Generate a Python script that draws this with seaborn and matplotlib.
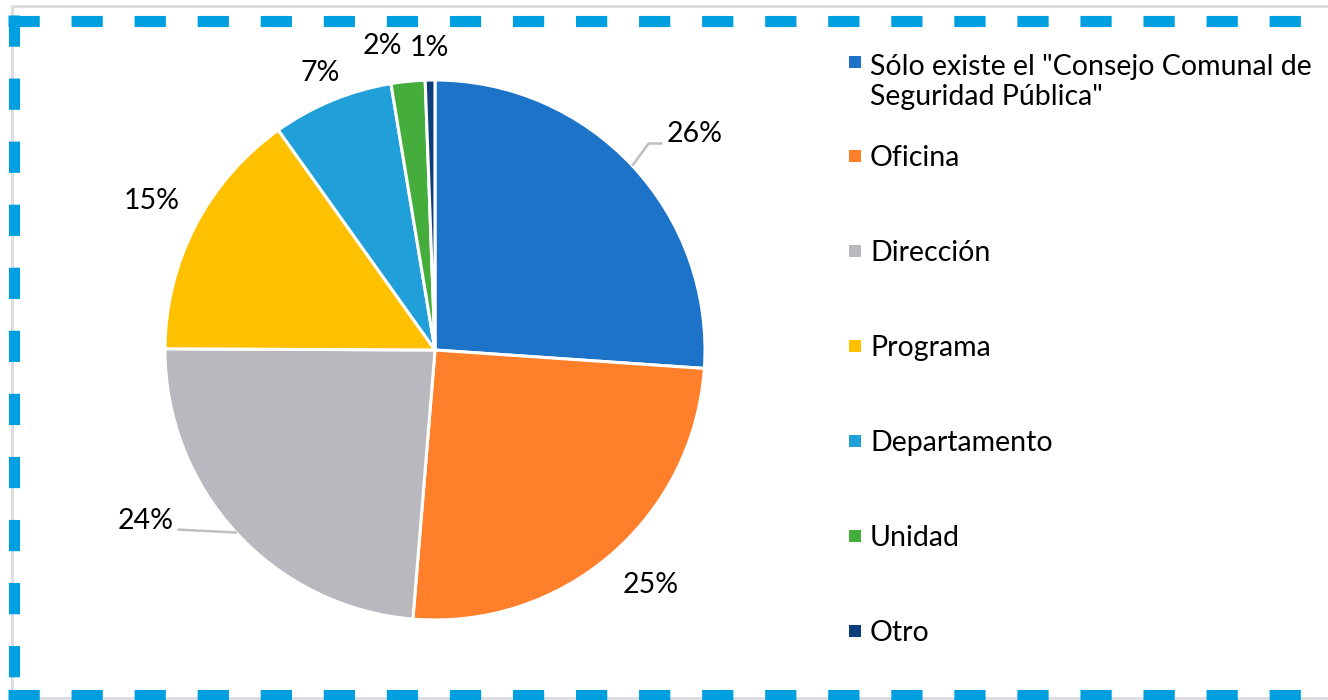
import numpy as np
import seaborn as sns
import matplotlib.pyplot as plt
from matplotlib.lines import Line2D
from matplotlib.patches import Rectangle

# Data: municipalities by type of security unit (n = 345)
categories = ['Sólo existe el "Consejo Comunal de\nSeguridad Pública"', 'Oficina', 'Dirección',
              'Programa', 'Departamento', 'Unidad', 'Otro']
counts = [90, 87, 82, 52, 25, 7, 2]
colors = ['#1c73c8', '#ff7f2a', '#b8b8be', '#ffc000', '#209fd9', '#45ad3b', '#0c3e7c']

sns.set_theme(style='white')
plt.rcParams['font.family'] = ['Lato', 'DejaVu Sans']
plt.rcParams['lines.scale_dashes'] = False

W, H = 1328, 700
fig = plt.figure(figsize=(W / 100, H / 100), dpi=100)
fig.patch.set_facecolor('white')


def px(x, y):
    # pixel (from top-left) -> figure fraction
    return x / W, 1 - y / H


# pie axes: centre (435, 350), radius 270 px
cx, cy, R = 435, 350, 270
half = 300
ax = fig.add_axes([(cx - half) / W, (H - cy - half) / H, 2 * half / W, 2 * half / H])
wedges, _ = ax.pie(counts, colors=sns.color_palette(colors), startangle=90, counterclock=False,
                   radius=1, wedgeprops=dict(edgecolor='white', linewidth=2.2))
lim = half / R
ax.set_xlim(-lim, lim)
ax.set_ylim(-lim, lim)
ax.set_aspect('equal')
ax.axis('off')

# percentage labels
total = sum(counts)
label_dist = [1.25, 1.18, 1.245, 1.185, 1.11, 1.143, 1.12]
label_shift = [-3.3, 1.8, -12, -0.4, 0, 4, 0]
mids = []
for w, c, d, s in zip(wedges, counts, label_dist, label_shift):
    mid = (w.theta1 + w.theta2) / 2
    mids.append(mid)
    a = np.deg2rad(mid + s)
    ax.text(d * np.cos(a), d * np.sin(a), f'{round(100 * c / total)}%',
            ha='center', va='center', fontsize=20.5, color='black')

# leader lines (26% and 24%)
lc = '#bfbfbf'
m = np.deg2rad(mids[0])
m1 = np.deg2rad(mids[0] + 1)
p1 = (1.10 * np.cos(m1), 1.10 * np.sin(m1))
ax.plot([np.cos(m), p1[0], p1[0] + 0.052], [np.sin(m), p1[1], p1[1]], color=lc, lw=1.8,
        solid_capstyle='butt')
m = np.deg2rad(mids[2])
e = np.deg2rad(-145)
ax.plot([np.cos(m), 1.16 * np.cos(e)], [np.sin(m), 1.16 * np.sin(e)], color=lc, lw=1.8)

# legend drawn manually
leg_y = [62, 156, 251, 346, 441, 536, 631]
line_gap = 33
for lab, col, y in zip(categories, colors, leg_y):
    x0, y0 = px(849, y + 6)
    fig.add_artist(Rectangle((x0, y0), 12 / W, 12 / H, transform=fig.transFigure,
                             facecolor=col, edgecolor='none'))
    nl = lab.count('\n')
    tx, ty = px(870, y + 10 + line_gap * nl)
    fig.text(tx, ty, lab, ha='left', va='baseline', fontsize=20.5, color='black',
             linespacing=1.17)

# outer light frame
fig.add_artist(Rectangle(px(12, 698), (W + 20) / W, 692 / H, transform=fig.transFigure,
                         facecolor='none', edgecolor='#dcdce0', lw=2))

# blue dashed border
bc = '#009fe0'
dash = (0, (22.5, 22.9))
for xs, ys in [([8, W + 10], [20.5, 20.5]), ([13.5, 13.5], [15, 705]),
               ([8, W + 10], [695, 695]), ([W + 4, W + 4], [15, 705])]:
    xx = [x / W for x in xs]
    yy = [1 - y / H for y in ys]
    fig.add_artist(Line2D(xx, yy, transform=fig.transFigure, color=bc, lw=8, linestyle=dash,
                          solid_capstyle='butt', dash_capstyle='butt'))

fig.savefig('out.png', dpi=100, facecolor='white')
